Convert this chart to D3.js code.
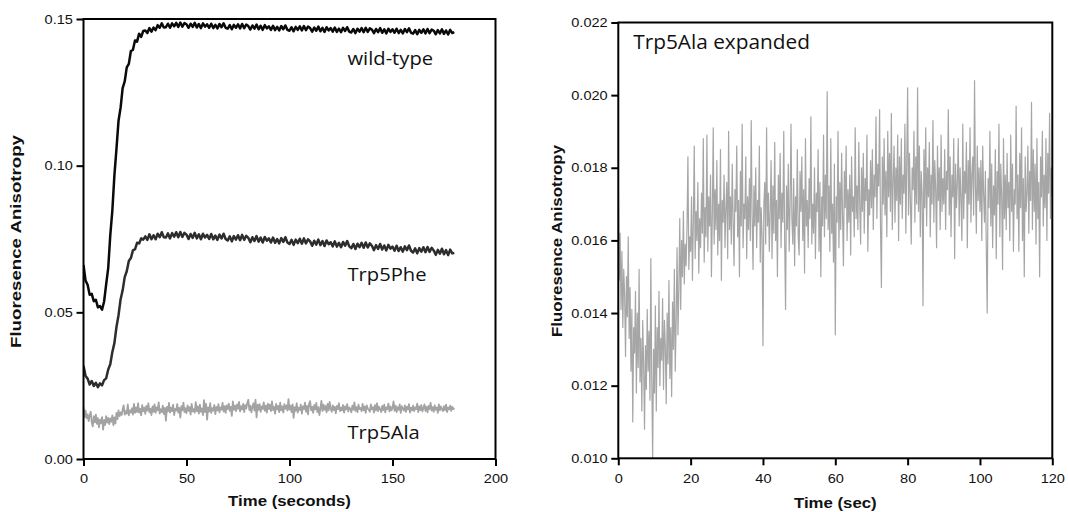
<!DOCTYPE html>
<html>
<head>
<meta charset="utf-8">
<script src="https://cdn.jsdelivr.net/npm/d3@7"></script>
<style>
  body { margin: 0; background: #fff; }
  .tick text { font-family: "Liberation Sans", Arial, sans-serif; font-size: 13px; fill: #111; }
  .axis-title { font-family: "Liberation Sans", Arial, sans-serif; font-weight: bold; font-size: 15px; fill: #111; }
  .curve-label { font-family: "Open Sans", sans-serif; fill: #111; }
</style>
</head>
<body>
<svg id="chart" width="1068" height="512"></svg>
<script>
// sampling step of the traces, seconds
const traceStep = 1
const alaStep = 0.5
const expandedStep = 0.25

// wild-type, 0..180 s
const wildType = [
  .0662,.0608,.0594,.0560,.0563,.0538,.0543,.0517,.0521,.0509,
  .0537,.0595,.0651,.0763,.0847,.0967,.1057,.1153,.1197,.1264,
  .1287,.1335,.1347,.1391,.1395,.1427,.1423,.1450,.1439,.1459,
  .1461,.1452,.1469,.1457,.1471,.1462,.1479,.1470,.1485,.1471,
  .1472,.1484,.1470,.1485,.1475,.1487,.1473,.1488,.1474,.1486,
  .1482,.1470,.1484,.1473,.1487,.1471,.1483,.1469,.1485,.1474,
  .1482,.1470,.1484,.1469,.1480,.1468,.1483,.1472,.1485,.1470,
  .1467,.1479,.1465,.1480,.1470,.1482,.1468,.1483,.1469,.1481,
  .1476,.1464,.1478,.1467,.1481,.1465,.1477,.1463,.1479,.1468,
  .1475,.1463,.1477,.1462,.1473,.1461,.1476,.1465,.1478,.1463,
  .1460,.1472,.1458,.1473,.1463,.1475,.1461,.1476,.1462,.1474,
  .1469,.1457,.1471,.1460,.1474,.1458,.1470,.1456,.1472,.1461,
  .1469,.1457,.1471,.1456,.1467,.1455,.1470,.1459,.1472,.1457,
  .1454,.1466,.1452,.1467,.1457,.1469,.1455,.1470,.1456,.1468,
  .1464,.1452,.1466,.1455,.1469,.1453,.1465,.1451,.1467,.1456,
  .1465,.1453,.1467,.1452,.1463,.1451,.1466,.1455,.1468,.1453,
  .1450,.1462,.1448,.1463,.1453,.1465,.1451,.1466,.1452,.1464,
  .1460,.1448,.1462,.1451,.1465,.1449,.1461,.1447,.1463,.1452,
  .1455
]

// Trp5Phe, 0..180 s
const trp5Phe = [
  .0318,.0283,.0274,.0254,.0266,.0249,.0260,.0245,.0258,.0251,
  .0269,.0275,.0305,.0323,.0365,.0395,.0450,.0490,.0544,.0575,
  .0620,.0640,.0675,.0685,.0711,.0715,.0737,.0735,.0752,.0748,
  .0759,.0747,.0766,.0749,.0763,.0749,.0768,.0756,.0773,.0756,
  .0755,.0769,.0752,.0770,.0758,.0773,.0756,.0774,.0757,.0771,
  .0765,.0750,.0767,.0754,.0771,.0752,.0766,.0749,.0768,.0755,
  .0764,.0750,.0767,.0749,.0762,.0747,.0765,.0752,.0768,.0750,
  .0745,.0759,.0742,.0760,.0748,.0763,.0746,.0764,.0747,.0761,
  .0754,.0739,.0756,.0743,.0760,.0741,.0755,.0738,.0757,.0744,
  .0752,.0738,.0755,.0737,.0750,.0735,.0753,.0740,.0756,.0738,
  .0733,.0747,.0730,.0748,.0736,.0751,.0734,.0752,.0735,.0749,
  .0742,.0727,.0744,.0731,.0748,.0729,.0743,.0726,.0745,.0732,
  .0739,.0725,.0742,.0724,.0737,.0722,.0740,.0727,.0743,.0725,
  .0719,.0733,.0716,.0734,.0722,.0737,.0720,.0738,.0721,.0735,
  .0727,.0712,.0729,.0716,.0733,.0714,.0728,.0711,.0730,.0717,
  .0724,.0710,.0727,.0709,.0722,.0707,.0725,.0712,.0728,.0710,
  .0704,.0718,.0701,.0719,.0707,.0722,.0705,.0723,.0706,.0720,
  .0711,.0696,.0713,.0700,.0717,.0698,.0712,.0695,.0714,.0701,
  .0702
]

// Trp5Ala, 0..180 s every 0.5 s (left panel)
const trp5Ala = [
  .0178,.0143,.0165,.0139,.0152,.0129,.0149,.0161,.0124,.0111,
  .0146,.0125,.0151,.0120,.0139,.0108,.0134,.0122,.0143,.0100,
  .0133,.0116,.0146,.0124,.0140,.0119,.0138,.0127,.0149,.0115,
  .0142,.0121,.0157,.0136,.0166,.0146,.0159,.0150,.0168,.0183,
  .0151,.0163,.0155,.0186,.0149,.0166,.0158,.0173,.0151,.0188,
  .0157,.0176,.0160,.0190,.0158,.0171,.0149,.0184,.0163,.0175,
  .0154,.0181,.0165,.0190,.0159,.0172,.0150,.0179,.0161,.0186,
  .0157,.0176,.0166,.0193,.0155,.0170,.0160,.0182,.0153,.0174,
  .0131,.0178,.0162,.0191,.0158,.0175,.0163,.0185,.0150,.0171,
  .0165,.0187,.0158,.0174,.0141,.0180,.0166,.0192,.0160,.0173,
  .0156,.0183,.0164,.0177,.0151,.0188,.0162,.0170,.0158,.0194,
  .0163,.0179,.0155,.0185,.0161,.0172,.0150,.0201,.0160,.0188,
  .0134,.0176,.0162,.0190,.0157,.0173,.0165,.0184,.0153,.0178,
  .0166,.0187,.0159,.0176,.0168,.0191,.0162,.0180,.0157,.0183,
  .0170,.0189,.0164,.0178,.0147,.0196,.0168,.0182,.0163,.0186,
  .0171,.0195,.0162,.0180,.0169,.0188,.0160,.0184,.0172,.0191,
  .0202,.0167,.0182,.0159,.0177,.0190,.0165,.0202,.0142,.0185,
  .0168,.0187,.0161,.0179,.0171,.0193,.0164,.0182,.0158,.0189,
  .0170,.0185,.0163,.0196,.0167,.0178,.0155,.0188,.0169,.0181,
  .0160,.0192,.0166,.0179,.0158,.0187,.0171,.0183,.0165,.0204,
  .0168,.0182,.0160,.0186,.0140,.0177,.0164,.0190,.0158,.0175,
  .0167,.0185,.0155,.0179,.0170,.0192,.0161,.0181,.0152,.0188,
  .0197,.0166,.0178,.0157,.0184,.0169,.0191,.0160,.0177,.0150,
  .0173,.0198,.0163,.0185,.0168,.0181,.0159,.0188,.0166,.0195,
  .0172,
  .0161,.0183,.0167,.0178,.0156,.0181,.0170,.0190,.0163,
  .0175,.0166,.0184,.0158,.0179,.0169,.0187,.0162,.0176,.0171,
  .0159,.0182,.0168,.0193,.0164,.0177,.0160,.0185,.0170,.0174,
  .0163,.0188,.0166,.0179,.0157,.0183,.0172,.0168,.0161,.0186,
  .0169,.0177,.0158,.0184,.0166,.0190,.0163,.0178,.0171,.0160,
  .0181,.0167,.0185,.0159,.0176,.0170,.0189,.0162,.0179,.0166,
  .0174,.0196,.0164,.0182,.0160,.0177,.0168,.0186,.0157,.0180,
  .0171,.0165,.0183,.0161,.0178,.0169,.0187,.0158,.0175,.0166,
  .0182,.0163,.0176,.0170,.0189,.0160,.0179,.0167,.0184,.0162,
  .0173,.0186,.0164,.0178,.0159,.0181,.0170,.0191,.0165,.0177,
  .0161,.0183,.0168,.0175,.0157,.0186,.0166,.0179,.0171,.0163,
  .0180,.0167,.0185,.0160,.0176,.0169,.0182,.0164,.0178,.0170,
  .0174
]

// Trp5Ala expanded, 0..120 s every 0.25 s (right panel)
const trp5AlaExpanded = [
  .0178,.0149,.0162,.0141,.0157,.0136,.0152,.0145,
  .0128,.0150,.0139,.0161,.0133,.0147,.0124,.0141,
  .0110,.0136,.0129,.0146,.0118,.0140,.0125,.0152,
  .0121,.0133,.0113,.0138,.0126,.0108,.0131,.0119,
  .0141,.0124,.0135,.0116,.0155,.0122,.0100,.0130,
  .0118,.0142,.0113,.0136,.0125,.0146,.0120,.0133,
  .0127,.0144,.0119,.0138,.0131,.0115,.0140,.0126,
  .0149,.0122,.0136,.0117,.0143,.0130,.0152,.0124,
  .0138,.0158,.0134,.0147,.0166,.0141,.0160,.0150,
  .0168,.0148,.0159,.0153,.0164,.0183,.0152,.0161,
  .0157,.0172,.0149,.0165,.0186,.0155,.0168,.0160,
  .0176,.0151,.0166,.0158,.0173,.0162,.0188,.0154,
  .0169,.0161,.0189,.0157,.0172,.0164,.0178,.0150,
  .0167,.0191,.0159,.0174,.0163,.0182,.0156,.0170,
  .0160,.0185,.0149,.0171,.0165,.0178,.0158,.0169,
  .0176,.0155,.0190,.0163,.0172,.0159,.0181,.0166,
  .0153,.0174,.0168,.0186,.0161,.0171,.0150,.0179,
  .0164,.0192,.0158,.0170,.0166,.0183,.0155,.0172,
  .0163,.0177,.0160,.0193,.0167,.0152,.0175,.0164,
  .0180,.0158,.0171,.0165,.0186,.0154,.0169,.0161,
  .0131,.0170,.0176,.0159,.0191,.0164,.0173,.0157,
  .0168,.0182,.0155,.0175,.0162,.0187,.0160,.0171,
  .0150,.0178,.0166,.0184,.0158,.0173,.0165,.0190,
  .0160,.0141,.0175,.0163,.0181,.0157,.0170,.0192,
  .0166,.0159,.0177,.0153,.0172,.0164,.0185,.0161,
  .0156,.0179,.0168,.0183,.0160,.0174,.0151,.0188,
  .0164,.0171,.0158,.0177,.0166,.0194,.0159,.0170,
  .0162,.0180,.0155,.0173,.0168,.0185,.0157,.0176,
  .0150,.0172,.0164,.0189,.0161,.0178,.0166,.0201,
  .0163,.0175,.0157,.0188,.0162,.0170,.0154,.0181,
  .0134,.0172,.0165,.0190,.0158,.0176,.0163,.0184,
  .0167,.0153,.0179,.0169,.0186,.0160,.0174,.0165,
  .0178,.0156,.0183,.0168,.0172,.0161,.0191,.0166,
  .0175,.0163,.0187,.0170,.0159,.0180,.0168,.0184,
  .0162,.0177,.0171,.0189,.0157,.0174,.0167,.0182,
  .0169,.0185,.0163,.0178,.0172,.0194,.0166,.0181,
  .0175,.0196,.0164,.0147,.0183,.0170,.0188,.0167,
  .0179,.0161,.0190,.0172,.0184,.0168,.0195,.0163,
  .0176,.0186,.0165,.0180,.0171,.0189,.0160,.0183,
  .0170,.0188,.0166,.0178,.0173,.0192,.0162,.0181,
  .0202,.0167,.0184,.0171,.0159,.0180,.0174,.0190,
  .0165,.0183,.0170,.0202,.0168,.0186,.0161,.0179,
  .0173,.0142,.0185,.0169,.0191,.0164,.0180,.0172,
  .0187,.0161,.0178,.0170,.0193,.0165,.0182,.0174,
  .0158,.0186,.0171,.0180,.0163,.0189,.0168,.0177,
  .0170,.0185,.0163,.0179,.0174,.0196,.0167,.0183,
  .0161,.0178,.0172,.0188,.0155,.0181,.0169,.0176,
  .0188,.0164,.0180,.0171,.0160,.0192,.0166,.0179,
  .0173,.0187,.0158,.0182,.0170,.0191,.0165,.0178,
  .0183,.0167,.0204,.0175,.0162,.0186,.0171,.0180,
  .0168,.0182,.0160,.0186,.0173,.0165,.0179,.0158,
  .0140,.0177,.0169,.0190,.0164,.0181,.0158,.0175,
  .0167,.0185,.0155,.0179,.0170,.0192,.0161,.0181,
  .0172,.0152,.0188,.0166,.0178,.0163,.0184,.0169,
  .0176,.0160,.0189,.0168,.0181,.0157,.0174,.0170,
  .0197,.0166,.0178,.0157,.0184,.0169,.0191,.0160,
  .0177,.0150,.0183,.0168,.0173,.0186,.0162,.0179,
  .0171,.0198,.0163,.0185,.0168,.0181,.0159,.0188,
  .0166,.0176,.0150,.0183,.0172,.0190,.0164,.0178,
  .0169,.0188,.0160,.0184,.0173,.0195,.0166,.0180,
  .0172
]

const curveNames = ["wild-type", "Trp5Phe", "Trp5Ala"]
const leftXTicks = [0, 50, 100, 150, 200]
const leftYTicks = [0, 0.05, 0.10, 0.15]
const rightXTicks = [0, 20, 40, 60, 80, 100, 120]
const rightYTicks = [0.010, 0.012, 0.014, 0.016, 0.018, 0.020, 0.022]

const toPoints = (vals, step) => vals.map((v, i) => ({ t: i * step, v: v }))

const svg = d3.select("#chart")
const stretch = 1.12

function drawPanel(p) {
  const x = d3.scaleLinear().domain(p.xDomain).range([p.left, p.right])
  const y = d3.scaleLinear().domain(p.yDomain).range([p.bottom, p.top])
  const g = svg.append("g")

  g.append("clipPath").attr("id", p.id + "-clip")
    .append("rect").attr("x", p.left).attr("y", p.top - 2)
    .attr("width", p.right - p.left).attr("height", p.bottom - p.top + 2)

  const lineGen = d3.line().x(d => x(d.t)).y(d => y(d.v))
  g.append("g").attr("clip-path", `url(#${p.id}-clip)`)
    .selectAll(".trace").data(p.series).join("path").attr("class", "trace")
    .attr("d", d => lineGen(d.pts)).attr("fill", "none")
    .attr("stroke", d => d.color).attr("stroke-width", d => d.width)
    .attr("stroke-linejoin", "round")

  g.append("g").attr("transform", `translate(0,${p.bottom})`)
    .call(d3.axisBottom(x).tickValues(p.xTicks).tickFormat(d3.format("d"))
      .tickSize(7).tickPadding(8).tickSizeOuter(0))
  g.append("g").attr("transform", `translate(${p.left},0)`)
    .call(d3.axisLeft(y).tickValues(p.yTicks).tickFormat(d3.format(p.yFormat))
      .tickSize(7).tickPadding(2.5).tickSizeOuter(0))
  g.selectAll(".domain").remove()
  g.selectAll(".tick line").attr("stroke", "#000").attr("stroke-width", 2)
  g.selectAll(".tick text").attr("transform", `scale(${stretch},1)`)

  // frame
  g.append("rect").attr("x", p.left).attr("y", p.top)
    .attr("width", p.right - p.left).attr("height", p.bottom - p.top)
    .attr("fill", "none").attr("stroke", "#000").attr("stroke-width", 2)

  g.append("text").attr("class", "axis-title").attr("text-anchor", "middle")
    .attr("transform", `translate(${(p.left + p.right) / 2},${p.xTitleY}) scale(${stretch},1)`)
    .text(p.xTitle)
  g.append("text").attr("class", "axis-title").attr("text-anchor", "middle")
    .attr("transform", `translate(${p.yTitleX},${p.yTitleMid}) rotate(-90)`)
    .attr("textLength", p.yTitleLen).attr("lengthAdjust", "spacingAndGlyphs")
    .text("Fluoresence Anisotropy")

  g.selectAll(".curve-label").data(p.labels).join("text").attr("class", "curve-label")
    .attr("font-size", d => d.size)
    .attr("transform", d => `translate(${d.x},${d.y}) scale(${d.sx},1)`)
    .text(d => d.text)
}

drawPanel({
  id: "left", left: 83.5, right: 495.5, top: 19, bottom: 459,
  xDomain: [0, 200], yDomain: [0, 0.15],
  xTicks: leftXTicks, yTicks: leftYTicks, yFormat: ".2f",
  xTitle: "Time (seconds)", xTitleY: 505.5,
  yTitleX: 21, yTitleMid: 241.5, yTitleLen: 213,
  series: [
    { pts: toPoints(wildType, traceStep), color: "#0a0a0a", width: 2.5 },
    { pts: toPoints(trp5Phe, traceStep), color: "#2d2d2d", width: 2.5 },
    { pts: toPoints(trp5Ala, alaStep), color: "#a3a3a3", width: 1.8 }
  ],
  labels: [
    { text: curveNames[0], x: 347.5, y: 65, size: 18, sx: stretch },
    { text: curveNames[1], x: 347.5, y: 281, size: 18, sx: stretch },
    { text: curveNames[2], x: 347.5, y: 439, size: 18, sx: stretch }
  ]
})

drawPanel({
  id: "right", left: 618.3, right: 1052.3, top: 22.5, bottom: 458.3,
  xDomain: [0, 120], yDomain: [0.010, 0.022],
  xTicks: rightXTicks, yTicks: rightYTicks, yFormat: ".3f",
  xTitle: "Time (sec)", xTitleY: 507.5,
  yTitleX: 561.5, yTitleMid: 241, yTitleLen: 192,
  series: [
    { pts: toPoints(trp5AlaExpanded, expandedStep), color: "#a6a6a6", width: 1.2 }
  ],
  labels: [
    { text: curveNames[2] + " expanded", x: 633.3, y: 49.3, size: 20, sx: 1.04 }
  ]
})
</script>
</body>
</html>
